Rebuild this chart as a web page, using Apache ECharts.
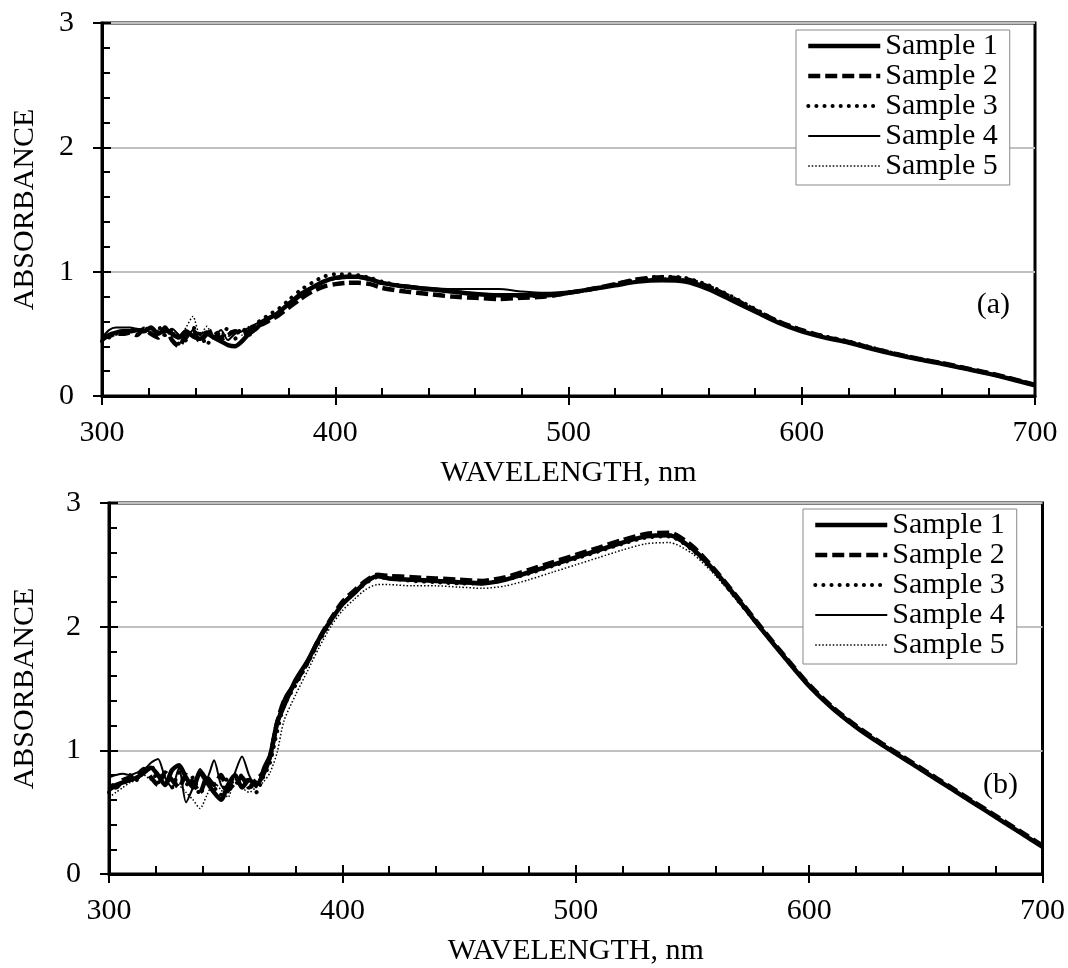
<!DOCTYPE html>
<html>
<head>
<meta charset="utf-8">
<script src="https://cdn.jsdelivr.net/npm/echarts@6/dist/echarts.min.js"></script>
<style>html,body{margin:0;padding:0;background:#fff}#c{width:1068px;height:968px}</style>
</head>
<body>
<div id="c"></div>
<script>
// Wavelengths (nm)
const wavelengths = [300,303,306,309,312,315,318,321,324,327,330,333,336,339,342,345,348,351,354,357,360,363,366,369,372,375,
  380,385,390,395,400,405,410,415,420,
  430,440,450,460,470,480,490,500,510,520,530,540,550,560,570,580,590,600,610,620,630,640,650,660,670,680,690,700];

const sampleNames = ['Sample 1','Sample 2','Sample 3','Sample 4','Sample 5'];
const xTicks = [300,400,500,600,700];
const yTicks = [0,1,2,3];

// Panel (a)
const a1 = [.45,.49,.51,.52,.52,.53,.52,.55,.50,.53,.50,.47,.52,.48,.46,.50,.47,.44,.41,.40,.44,.50,.54,.60,.63,.66,
  .74,.81,.87,.92,.95,.96,.96,.94,.91,
  .88,.86,.84,.82,.81,.81,.81,.83,.86,.89,.92,.93,.92,.86,.77,.68,.59,.52,.47,.43,.38,.335,.295,.26,.22,.18,.135,.085];
const a2 = [.47,.48,.50,.50,.51,.49,.54,.50,.47,.55,.45,.40,.49,.52,.44,.50,.53,.46,.49,.52,.50,.52,.56,.58,.61,.64,
  .71,.78,.84,.88,.90,.91,.91,.90,.87,
  .84,.82,.80,.79,.78,.79,.80,.83,.86,.90,.94,.955,.94,.88,.79,.69,.60,.53,.475,.435,.385,.34,.30,.265,.225,.185,.14,.09];
const a3 = [.44,.47,.50,.51,.53,.52,.55,.52,.56,.49,.53,.42,.45,.55,.50,.41,.52,.47,.55,.46,.55,.49,.58,.62,.66,.69,
  .77,.85,.91,.96,.98,.98,.97,.95,.92,
  .88,.86,.84,.82,.81,.80,.81,.83,.86,.90,.94,.96,.95,.89,.80,.70,.60,.53,.48,.44,.39,.34,.30,.265,.225,.185,.14,.09];
const a4 = [.47,.53,.55,.55,.55,.54,.53,.54,.52,.51,.54,.49,.46,.53,.50,.52,.48,.53,.45,.50,.52,.55,.58,.61,.64,.67,
  .75,.83,.88,.92,.94,.95,.95,.93,.91,
  .89,.87,.86,.86,.86,.84,.83,.84,.86,.89,.92,.945,.935,.875,.78,.685,.59,.52,.47,.43,.38,.335,.295,.26,.22,.18,.135,.085];
const a5 = [.46,.50,.52,.53,.53,.52,.54,.51,.53,.48,.52,.47,.55,.64,.49,.56,.45,.51,.48,.53,.49,.56,.57,.60,.63,.66,
  .75,.82,.88,.92,.94,.95,.95,.93,.90,
  .87,.85,.83,.82,.81,.81,.81,.83,.86,.89,.93,.95,.94,.88,.79,.69,.595,.525,.475,.435,.385,.34,.30,.26,.22,.18,.135,.085];

// Panel (b)
const b1 = [.68,.72,.74,.76,.78,.82,.86,.80,.72,.84,.88,.78,.70,.82,.74,.66,.60,.72,.80,.70,.76,.72,.80,.95,1.22,1.36,
  1.57,1.72,1.90,2.05,2.18,2.27,2.36,2.41,2.39,
  2.38,2.37,2.36,2.35,2.38,2.44,2.50,2.56,2.62,2.68,2.73,2.74,2.63,2.44,2.21,1.97,1.74,1.52,1.34,1.19,1.06,0.94,0.82,0.70,0.58,0.46,0.34,0.22];
const b2 = [.72,.70,.76,.78,.80,.85,.78,.72,.82,.76,.70,.80,.74,.66,.78,.72,.80,.68,.74,.78,.70,.76,.82,.95,1.22,1.40,
  1.55,1.71,1.90,2.06,2.20,2.29,2.37,2.42,2.41,
  2.40,2.39,2.38,2.37,2.40,2.46,2.52,2.58,2.64,2.70,2.75,2.76,2.65,2.45,2.22,1.98,1.75,1.53,1.35,1.20,1.07,0.95,0.83,0.71,0.59,0.47,0.35,0.23];
const b3 = [.66,.74,.72,.80,.76,.83,.88,.74,.80,.70,.82,.72,.78,.64,.76,.70,.64,.78,.72,.80,.74,.66,.78,.90,1.15,1.36,
  1.53,1.70,1.88,2.04,2.18,2.27,2.35,2.40,2.39,
  2.37,2.36,2.35,2.35,2.38,2.43,2.49,2.55,2.61,2.67,2.72,2.73,2.62,2.43,2.20,1.97,1.74,1.52,1.34,1.19,1.06,0.94,0.82,0.70,0.58,0.46,0.34,0.22];
const b4 = [.78,.80,.81,.80,.82,.84,.90,.93,.78,.70,.86,.58,.70,.85,.78,.92,.72,.66,.82,.95,.80,.70,.86,.98,1.22,1.42,
  1.56,1.72,1.90,2.05,2.19,2.28,2.36,2.40,2.39,
  2.38,2.37,2.36,2.35,2.38,2.44,2.50,2.56,2.62,2.68,2.73,2.74,2.63,2.44,2.21,1.97,1.74,1.52,1.34,1.19,1.06,0.94,0.82,0.70,0.58,0.46,0.34,0.22];
const b5 = [.62,.66,.70,.74,.76,.80,.76,.82,.74,.78,.72,.66,.60,.53,.64,.74,.68,.62,.76,.70,.66,.70,.74,.82,.98,1.24,
  1.45,1.64,1.83,2.00,2.13,2.22,2.30,2.34,2.34,
  2.33,2.33,2.32,2.31,2.33,2.38,2.44,2.50,2.56,2.62,2.67,2.68,2.59,2.41,2.19,1.96,1.73,1.51,1.34,1.19,1.06,0.94,0.82,0.70,0.58,0.46,0.34,0.22];

const panelA = [a1,a2,a3,a4,a5];
const panelB = [b1,b2,b3,b4,b5];

const FONT = 'Liberation Serif';
const lineStyles = [
  {color:'#000', width:4.5, type:'solid', cap:'butt'},
  {color:'#000', width:4.5, type:[12,5], cap:'butt'},
  {color:'#000', width:4, type:[0.1,8], cap:'round'},
  {color:'#000', width:2, type:'solid', cap:'butt'},
  {color:'#000', width:1.5, type:[1.5,2], cap:'butt'}
];

const grids = [
  {left:102, right:33, top:23, height:373},
  {left:109, right:25, top:503, height:371}
].map(g => Object.assign({show:true, borderColor:'#000', borderWidth:3, backgroundColor:'transparent'}, g));

function mainX(gi){
  return {type:'value', gridIndex:gi, min:300, max:700, interval:100, position:'bottom',
    name:'WAVELENGTH, nm', nameLocation:'middle', nameGap:62,
    nameTextStyle:{fontFamily:FONT, fontSize:30, color:'#000'},
    axisLine:{show:true, onZero:false, lineStyle:{color:'#000', width:3}},
    axisTick:{show:true, inside:true, length:9, lineStyle:{color:'#000', width:2}},
    minorTick:{show:true, splitNumber:5, length:8, lineStyle:{color:'#000', width:2}},
    axisLabel:{fontFamily:FONT, fontSize:30, color:'#000', margin:22,
      formatter: v => xTicks.includes(v) ? String(v) : ''},
    splitLine:{show:false}};
}
function dupX(gi){
  return {type:'value', gridIndex:gi, min:300, max:700, interval:100, position:'bottom',
    axisLine:{show:false}, axisLabel:{show:false}, splitLine:{show:false},
    axisTick:{show:true, inside:false, length:9, lineStyle:{color:'#000', width:2}}};
}
function mainY(gi, gap){
  return {type:'value', gridIndex:gi, min:0, max:3, interval:1, position:'left',
    name:'ABSORBANCE', nameLocation:'middle', nameGap:gap, nameRotate:90,
    nameTextStyle:{fontFamily:FONT, fontSize:30, color:'#000'},
    axisLine:{show:true, onZero:false, lineStyle:{color:'#000', width:3}},
    axisTick:{show:true, inside:true, length:9, lineStyle:{color:'#000', width:2}},
    minorTick:{show:true, splitNumber:5, length:8, lineStyle:{color:'#000', width:2}},
    axisLabel:{fontFamily:FONT, fontSize:30, color:'#000', margin:28,
      formatter: v => yTicks.includes(v) ? String(v) : ''},
    splitLine:{show:true, lineStyle:{color:'#c0c0c0', width:2}}};
}
function dupY(gi){
  return {type:'value', gridIndex:gi, min:0, max:3, interval:1, position:'left',
    axisLine:{show:false}, axisLabel:{show:false}, splitLine:{show:false},
    axisTick:{show:true, inside:false, length:9, lineStyle:{color:'#000', width:2}}};
}

const series = [];
[panelA, panelB].forEach((panel, pi) => {
  panel.forEach((vals, si) => {
    series.push({
      type:'line', name:sampleNames[si], xAxisIndex:pi*2, yAxisIndex:pi*2,
      data: wavelengths.map((w,i) => [w, vals[i]]),
      symbol:'none', smooth:0.25, z: 10 - si,
      lineStyle: lineStyles[si]
    });
  });
});

function legendFor(left, top){
  return {
    orient:'vertical', left:left, top:top, itemWidth:72, itemHeight:30, itemGap:0,
    padding:[1,12,4,10], borderColor:'#888', borderWidth:1, backgroundColor:'#fff',
    selectedMode:false,
    itemStyle:{opacity:0},
    textStyle:{fontFamily:FONT, fontSize:30, color:'#000', lineHeight:30},
    data: sampleNames.map((n,i) => ({name:n, lineStyle:{width:lineStyles[i].width, type:lineStyles[i].type, cap:lineStyles[i].cap, color:'#000'}}))
  };
}

const chart = echarts.init(document.getElementById('c'), null, {renderer:'canvas'});
chart.setOption({
  animation:false,
  backgroundColor:'#fff',
  grid: grids,
  xAxis: [mainX(0), dupX(0), mainX(1), dupX(1)],
  yAxis: [mainY(0, 62), dupY(0), mainY(1, 69), dupY(1)],
  legend: [legendFor(796, 30), legendFor(803, 509)],
  graphic: [
    {type:'text', right:58, top:290, style:{text:'(a)', font:'30px "Liberation Serif"', fill:'#000'}},
    {type:'text', right:50, top:770, style:{text:'(b)', font:'30px "Liberation Serif"', fill:'#000'}}
  ],
  series: series
});
</script>
</body>
</html>
